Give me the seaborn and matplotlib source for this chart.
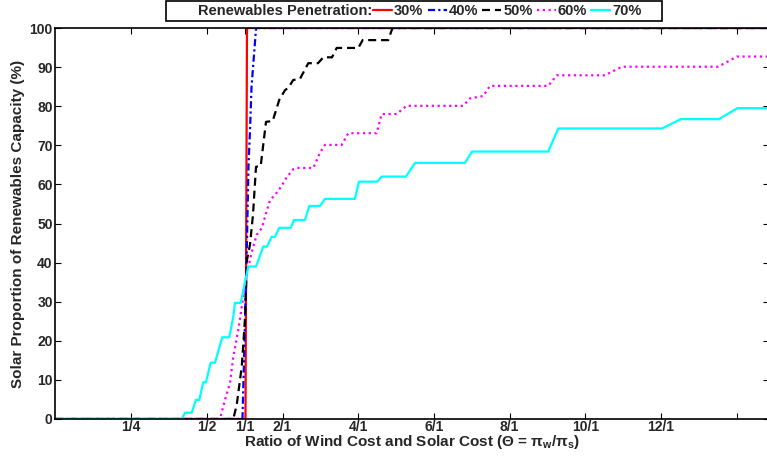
import matplotlib
matplotlib.use("Agg")
import matplotlib.pyplot as plt
import pandas as pd
import seaborn as sns
from matplotlib.offsetbox import HPacker, DrawingArea

# Cost-ratio axis: tick positions and their labels
tick_pos = [1, 2, 2.5, 3, 4, 5, 6, 7, 8, 9]
tick_labels = ["1/4", "1/2", "1/1", "2/1", "4/1", "6/1", "8/1", "10/1", "12/1", ""]

penetration = ["30%", "40%", "50%", "60%", "70%"]

# Solar share of renewables capacity (%) versus cost ratio position
x30 = [0.0, 2.51, 2.53, 9.40]
y30 = [0.0, 0.0, 100.0, 100.0]

x40 = [0.0, 2.47, 2.50, 2.53, 2.55, 2.57, 2.59, 2.65, 9.40]
y40 = [0.0, 0.0, 22.0, 46.0, 65.0, 74.0, 85.0, 100.0, 100.0]

x50 = [0.0, 2.349, 2.394, 2.460, 2.503, 2.530, 2.569, 2.609, 2.649, 2.711,
       2.781, 2.869, 2.956, 3.032, 3.075, 3.141, 3.230, 3.340, 3.468, 3.538,
       3.653, 3.715, 4.000, 4.058, 4.396, 4.452, 9.40]
y50 = [0.0, 0.0, 3.6, 13.3, 25.3, 40.7, 44.5, 52.2, 64.5, 64.7,
       76.0, 76.2, 81.6, 84.1, 84.7, 86.7, 87.0, 91.0, 91.0, 92.5,
       92.5, 94.9, 94.9, 96.9, 96.9, 100.0, 100.0]

x60 = [0.0, 2.173, 2.239, 2.305, 2.349, 2.415, 2.460, 2.530, 2.592, 2.658,
       2.724, 2.768, 2.834, 2.900, 2.966, 3.054, 3.141, 3.186, 3.406, 3.494,
       3.560, 3.781, 3.868, 4.243, 4.309, 4.507, 4.639, 5.387, 5.476, 5.651,
       5.740, 6.510, 6.621, 7.259, 7.483, 8.756, 9.003, 9.40]
y60 = [0.0, 0.0, 4.9, 9.2, 15.9, 22.8, 28.6, 37.3, 42.7, 47.1,
       48.8, 51.7, 56.0, 57.3, 59.0, 61.8, 63.9, 64.2, 64.2, 68.1,
       70.1, 70.1, 73.1, 73.1, 78.0, 78.0, 80.1, 80.1, 82.0, 82.6,
       85.2, 85.2, 87.9, 87.9, 90.1, 90.1, 92.7, 92.7]

x70 = [0.0, 1.667, 1.711, 1.799, 1.856, 1.900, 1.952, 1.988, 2.050, 2.107,
       2.203, 2.296, 2.349, 2.371, 2.447, 2.547, 2.649, 2.745, 2.794, 2.856,
       2.900, 2.956, 3.107, 3.151, 3.296, 3.353, 3.494, 3.560, 3.956, 4.009,
       4.251, 4.309, 4.630, 4.749, 5.410, 5.502, 6.510, 6.642, 8.012, 8.263,
       8.765, 9.009, 9.40]
y70 = [0.0, 0.0, 1.6, 1.6, 4.9, 4.9, 9.4, 9.4, 14.4, 14.4,
       20.9, 20.9, 26.2, 29.7, 29.7, 39.0, 39.0, 44.1, 44.1, 46.6,
       46.6, 48.9, 48.9, 50.9, 50.9, 54.5, 54.5, 56.3, 56.3, 60.7,
       60.7, 62.0, 62.0, 65.5, 65.5, 68.4, 68.4, 74.3, 74.3, 76.7,
       76.7, 79.5, 79.5]

series_x = [x30, x40, x50, x60, x70]
series_y = [y30, y40, y50, y60, y70]

df = pd.concat(
    [pd.DataFrame({"theta": sx, "share": sy, "pen": p})
     for sx, sy, p in zip(series_x, series_y, penetration)],
    ignore_index=True,
)

sns.set_style("ticks")
plt.rcParams["font.family"] = ["Liberation Sans", "DejaVu Sans"]
plt.rcParams["font.weight"] = "bold"
plt.rcParams["mathtext.fontset"] = "custom"
plt.rcParams["mathtext.rm"] = "Liberation Sans:bold"
plt.rcParams["mathtext.it"] = "Liberation Sans:bold"
plt.rcParams["mathtext.bf"] = "Liberation Sans:bold"

colors = ["#ff0000", "#0000ff", "#000000", "#ff00ff", "#00ffff"]
styles = ["-", (0, (3.2, 1.4, 1.0, 1.4)), (0, (3.6, 2.2)), (0, (1.0, 1.6)), "-"]

fig = plt.figure(figsize=(7.67, 4.57), dpi=100)
ax = fig.add_axes([55.5 / 767, 38 / 457, 713 / 767, 391 / 457])

for p, c, ls in zip(penetration, colors, styles):
    sns.lineplot(data=df[df["pen"] == p], x="theta", y="share", color=c,
                 linestyle=ls, linewidth=1.6, estimator=None, sort=False,
                 legend=False, ax=ax)

ax.set_xlim(0, 9.42)
ax.set_ylim(0, 100)
ax.set_xticks(tick_pos)
ax.set_xticklabels(tick_labels)
ax.set_yticks(range(0, 101, 10))
ax.tick_params(axis="both", direction="in", length=4.5, width=0.8,
               labelsize=10, top=True, right=True, color="black")
ax.tick_params(axis="x", pad=1)
ax.tick_params(axis="y", pad=2)
for lab in ax.get_xticklabels() + ax.get_yticklabels():
    lab.set_fontweight("bold")
for sp in ax.spines.values():
    sp.set_linewidth(1.2)
    sp.set_color("black")

ax.set_xlabel(r"Ratio of Wind Cost and Solar Cost ($\Theta$ = $\pi_w/\pi_s$)",
              fontsize=11, fontweight="bold", labelpad=-1)
ax.set_ylabel("Solar Proportion of Renewables Capacity (%)",
              fontsize=11, fontweight="bold", labelpad=3)

# Horizontal legend with the title inline on the left
leg = fig.legend(ax.lines[:5], penetration, loc="upper center",
                 bbox_to_anchor=(414 / 767, 1 - 1 / 457), ncol=5,
                 title="Renewables Penetration:", title_fontsize=10.5,
                 prop={"weight": "bold", "size": 10.5}, frameon=True,
                 fancybox=False, edgecolor="black", framealpha=1,
                 borderpad=0.2, borderaxespad=0, handlelength=1.3,
                 handletextpad=0.12, columnspacing=0.3)
leg.get_title().set_fontweight("bold")
leg.get_frame().set_linewidth(1.2)
title_box, handle_box = leg._legend_box.get_children()
fs = leg._fontsize
row = HPacker(pad=leg.borderpad * fs, sep=1, align="center",
              children=[DrawingArea(20, 1), title_box, handle_box,
                        DrawingArea(12, 1)])
row.set_figure(fig)
row.set_offset(leg._findoffset)
leg._legend_box = row

fig.savefig("out.png", dpi=100)
